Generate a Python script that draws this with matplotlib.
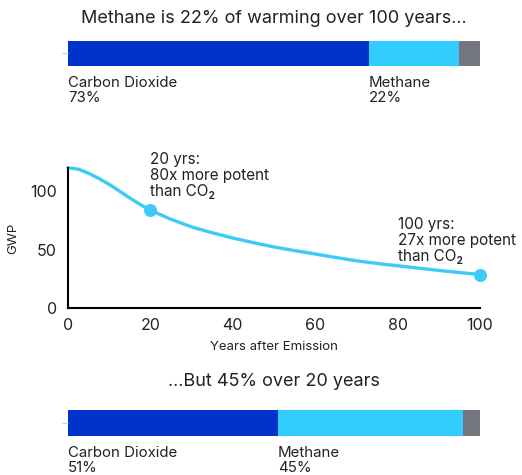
import matplotlib.pyplot as plt

plt.rcParams['font.family'] = ['Inter', 'DejaVu Sans']

# stacked share of warming
gases = ['Carbon Dioxide', 'Methane', 'Other']
share_100yr = [73, 22, 5]
share_20yr = [51, 45, 4]
gas_colors = ['#0033CC', '#33CCFF', '#74767D']

# methane GWP decay curve
years = [0, 2.5, 5, 7.5, 10, 12.5, 15, 17.5, 20, 25, 30, 35, 40, 45, 50,
         55, 60, 65, 70, 75, 80, 85, 90, 95, 100]
gwp = [120.3, 119, 115.5, 111, 106, 100.2, 94.3, 88.8, 83.8, 76, 69.5, 64.5,
       60, 56, 52.3, 49.2, 46.3, 43.3, 40.5, 38.2, 36.2, 34.2, 32.2, 30.4, 28.7]
marked_years = [20, 100]
marked_gwp = [83.8, 28.7]

text_col = '#222222'
line_col = '#3CCBF7'

fig = plt.figure(figsize=(5.22, 4.75), dpi=100)


def share_bar(ax, shares, title, pad):
    left = 0
    for s, c in zip(shares, gas_colors):
        ax.barh(0, s, left=left, height=1, color=c, edgecolor='none')
        left += s
    ax.set_xlim(0, 100)
    ax.set_ylim(-0.5, 0.5)
    for sp in ax.spines.values():
        sp.set_visible(False)
    ax.set_xticks([])
    ax.set_yticks([0])
    ax.set_yticklabels([''])
    ax.tick_params(axis='y', length=4, color='#d0d0d0', pad=2)
    ax.set_title(title, fontsize=13, color=text_col, pad=pad)
    # labels under the first two segments
    starts = [0, shares[0]]
    for i in range(2):
        ax.text(starts[i], -0.9, gases[i] + '\n' + str(shares[i]) + '%',
                fontsize=10.8, color=text_col, va='top', ha='left',
                linespacing=1.1)


ax1 = fig.add_axes([0.1303, 0.8617, 0.789, 0.0526])
share_bar(ax1, share_100yr, 'Methane is 22% of warming over 100 years...', 13)

ax3 = fig.add_axes([0.1303, 0.0821, 0.789, 0.0547])
share_bar(ax3, share_20yr, '...But 45% over 20 years', 17)

ax2 = fig.add_axes([0.1303, 0.3516, 0.789, 0.2947])
ax2.plot(years, gwp, color=line_col, lw=2.4, clip_on=False,
         solid_capstyle='round', solid_joinstyle='round')
ax2.scatter(marked_years, marked_gwp, s=70, color=line_col, zorder=3, clip_on=False)
ax2.set_xlim(0, 100)
ax2.set_ylim(0, 120)
ax2.set_xticks([0, 20, 40, 60, 80, 100])
ax2.set_yticks([0, 50, 100])
ax2.tick_params(length=0, labelsize=11.5, labelcolor=text_col, pad=8)
ax2.tick_params(axis='x', pad=7)
ax2.spines['top'].set_visible(False)
ax2.spines['right'].set_visible(False)
ax2.spines['left'].set_linewidth(1.5)
ax2.spines['bottom'].set_linewidth(1.5)
ax2.set_xlabel('Years after Emission', fontsize=9.5, color=text_col, labelpad=6)
ax2.set_ylabel('GWP', fontsize=9.5, color=text_col, labelpad=8)

ax2.text(20, 134, '20 yrs:\n80x more potent\nthan CO\u2082', fontsize=11,
         color=text_col, va='top', ha='left', linespacing=1.1)
ax2.text(80, 78, '100 yrs:\n27x more potent\nthan CO\u2082', fontsize=11,
         color=text_col, va='top', ha='left', linespacing=1.1)

fig.savefig('out.png', dpi=100)
